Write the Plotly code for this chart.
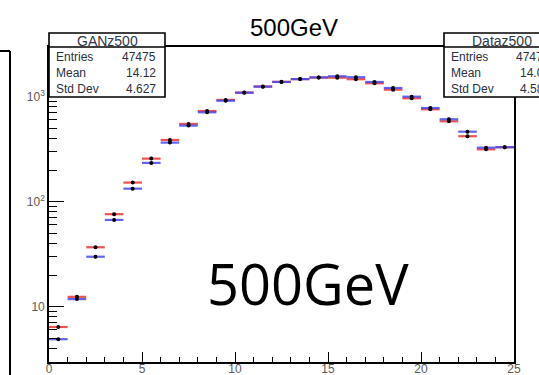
import plotly.graph_objects as go

# ---- data ----
bin_centers = [i + 0.5 for i in range(25)]
gan_values = [6.4, 12.4, 36.8, 76, 152, 257, 387, 550, 730, 930, 1095, 1250, 1385, 1470, 1520,
               1517, 1466, 1341, 1166, 965, 758, 583, 420, 315, 330]
data_values = [4.9, 11.8, 29.9, 67, 133, 234, 365, 530, 710, 915, 1090, 1245, 1380, 1470, 1525,
               1564, 1531, 1380, 1210, 1000, 780, 609, 464, 327, 330]
y_tickvals = [10, 100, 1000]
y_ticktext = ["10", "10<sup>2</sup>", "10<sup>3</sup>"]
y_minorvals = [3, 4, 5, 6, 7, 8, 9, 20, 30, 40, 50, 60, 70, 80, 90,
               200, 300, 400, 500, 600, 700, 800, 900, 2000, 3000]
x_tickvals = [0, 5, 10, 15, 20, 25]
gan_stats = [("Entries", "47475"), ("Mean", "14.12"), ("Std Dev", "4.627")]
data_stats = [("Entries", "47475"), ("Mean", "14.09"), ("Std Dev", "4.589")]

W, H = 539, 375
L, R, T, B = 49, 514, 47, 362


def px(X):
    return (X - L) / (R - L)


def py(Y):
    return (B - Y) / (B - T)


fig = go.Figure()

fig.add_trace(go.Scatter(
    x=bin_centers, y=gan_values, mode="markers", name="GANz500",
    marker=dict(color="black", size=4),
    error_x=dict(type="constant", value=0.5, color="rgba(235,50,50,0.85)", thickness=2.2, width=0),
    error_y=dict(type="percent", value=3, color="black", thickness=1.2, width=0),
))
fig.add_trace(go.Scatter(
    x=bin_centers, y=data_values, mode="markers", name="Dataz500",
    marker=dict(color="black", size=4),
    error_x=dict(type="constant", value=0.5, color="rgba(70,70,240,0.85)", thickness=2.2, width=0),
    error_y=dict(type="percent", value=3, color="black", thickness=1.2, width=0),
))

tickfont = dict(family="Liberation Sans", size=12, color="#5d5a58")

fig.update_layout(
    width=W, height=H,
    margin=dict(l=L, r=W - R, t=T, b=H - B, pad=0, autoexpand=False),
    paper_bgcolor="white", plot_bgcolor="white",
    showlegend=False,
    xaxis=dict(
        range=[0, 25], tickvals=x_tickvals, ticks="inside", ticklen=10, tickwidth=1.3,
        tickcolor="black", showline=True, linecolor="black", linewidth=1.6, mirror=True,
        showgrid=False, zeroline=False, tickfont=tickfont, automargin=False,
        ticklabelstandoff=-5,
        minor=dict(dtick=1, ticks="inside", ticklen=5, tickwidth=1.3, tickcolor="black", showgrid=False),
    ),
    yaxis=dict(
        type="log", range=[0.473, 3.473], tickvals=y_tickvals, ticktext=y_ticktext,
        ticks="inside", ticklen=15, tickwidth=1.3, tickcolor="black",
        showline=True, linecolor="black", linewidth=1.6, mirror=True,
        showgrid=False, zeroline=False, tickfont=tickfont, automargin=False,
        minor=dict(tickvals=y_minorvals, ticks="inside", ticklen=8, tickwidth=1.3,
                   tickcolor="black", showgrid=False),
    ),
)

shapes = []
annotations = []


def stats_box(x0, x1, title, rows):
    y0, yh, y1 = 33, 47, 97
    shapes.append(dict(type="rect", xref="paper", yref="paper", x0=px(x0), x1=px(x1),
                       y0=py(y1), y1=py(y0), line=dict(color="black", width=1.6),
                       fillcolor="white", layer="above"))
    shapes.append(dict(type="line", xref="paper", yref="paper", x0=px(x0), x1=px(x1),
                       y0=py(yh), y1=py(yh), line=dict(color="black", width=1.6), layer="above"))
    annotations.append(dict(xref="paper", yref="paper", x=px((x0 + x1) / 2), y=py(40.5),
                            text=title, showarrow=False, xanchor="center", yanchor="middle",
                            font=dict(family="Liberation Sans", size=14, color="#2f3645")))
    for i, (lab, val) in enumerate(rows):
        yy = 57.3 + 16 * i
        annotations.append(dict(xref="paper", yref="paper", x=px(x0 + 5), y=py(yy), text=lab,
                                showarrow=False, xanchor="left", yanchor="middle",
                                font=dict(family="Liberation Sans", size=12, color="#2a3040")))
        annotations.append(dict(xref="paper", yref="paper", x=px(x1 - 7), y=py(yy), text=val,
                                showarrow=False, xanchor="right", yanchor="middle",
                                font=dict(family="Liberation Sans", size=12, color="#2a3040")))


stats_box(49, 165, "GANz500", gan_stats)
stats_box(444, 559, "Dataz500", data_stats)

# stray frame of neighbouring panel on the left
shapes.append(dict(type="line", xref="paper", yref="paper", x0=px(10), x1=px(10),
                   y0=py(380), y1=py(51), line=dict(color="black", width=2)))
shapes.append(dict(type="line", xref="paper", yref="paper", x0=px(-2), x1=px(10),
                   y0=py(51), y1=py(51), line=dict(color="black", width=2)))

# title
annotations.append(dict(xref="paper", yref="paper", x=px(294), y=py(27), text="500GeV",
                        showarrow=False, xanchor="center", yanchor="middle",
                        font=dict(family="Liberation Sans", size=24, color="black")))
# big label
annotations.append(dict(xref="paper", yref="paper", x=px(308), y=py(283), text="500GeV",
                        showarrow=False, xanchor="center", yanchor="middle",
                        font=dict(family="Open Sans", size=56, color="black")))

fig.update_layout(shapes=shapes, annotations=annotations)
fig.write_html("out.html")
